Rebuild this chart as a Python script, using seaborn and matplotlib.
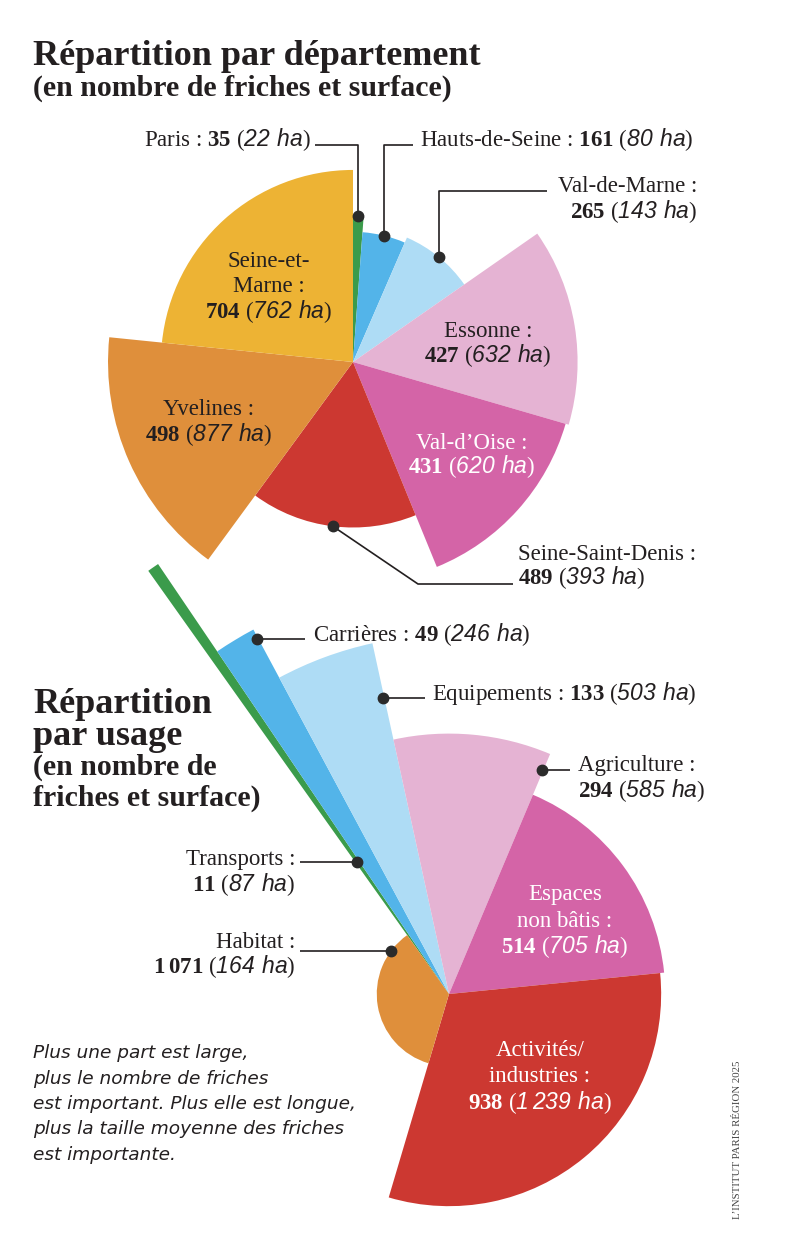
import numpy as np
import pandas as pd
import matplotlib
matplotlib.use("Agg")
import matplotlib.pyplot as plt
import seaborn as sns

# --- Données : nombre de friches et surface (ha) ---
dept_names = ["Paris", "Hauts-de-Seine", "Val-de-Marne", "Essonne",
              "Val-d\u2019Oise", "Seine-Saint-Denis", "Yvelines", "Seine-et-Marne"]
dept_counts = [35, 161, 265, 427, 431, 489, 498, 704]
dept_surfaces = [22, 80, 143, 632, 620, 393, 877, 762]

usage_names = ["Transports", "Carrières", "Equipements", "Agriculture",
               "Espaces non bâtis", "Activités/industries", "Habitat"]
usage_counts = [11, 49, 133, 294, 514, 938, 1071]
usage_surfaces = [87, 246, 503, 585, 705, 1239, 164]

GREEN, BLUE, LBLUE, LPINK = "#3b9b4b", "#53b4e9", "#aedcf5", "#e5b3d3"
MAGENTA, RED, ORANGE, YELLOW = "#d464a7", "#cc3831", "#df8f3b", "#edb334"
dept_colors = [GREEN, BLUE, LBLUE, LPINK, MAGENTA, RED, ORANGE, YELLOW]
usage_colors = [GREEN, BLUE, LBLUE, LPINK, MAGENTA, RED, ORANGE]

W, H = 800, 1235
K = 184.6          # pixels par racine(ha / friche)
INK = "#231f20"

sns.set_theme(style="white")
plt.rcParams["font.family"] = ["Liberation Serif", "DejaVu Serif"]
plt.rcParams["mathtext.fontset"] = "custom"
plt.rcParams["mathtext.rm"] = "Liberation Serif"
plt.rcParams["mathtext.bf"] = "Liberation Serif:bold"
# \mathsf sert ici pour l'italique (chiffres compris)
plt.rcParams["mathtext.sf"] = "Liberation Sans:italic"


def build(names, counts, surfaces, colors, start):
    df = pd.DataFrame({"name": names, "count": counts, "surface": surfaces, "color": colors})
    df["width"] = df["count"] / df["count"].sum() * 2 * np.pi
    df["theta0"] = start + df["width"].cumsum() - df["width"]
    # angle = nombre de friches, aire du secteur = surface
    df["radius"] = np.sqrt(df["surface"] / df["count"])
    return df


def polar_axes(fig, cx, cy, rpx):
    ax = fig.add_axes([(cx - rpx) / W, (H - cy - rpx) / H, 2 * rpx / W, 2 * rpx / H],
                      projection="polar")
    ax.set_theta_zero_location("N")
    ax.set_theta_direction(-1)
    ax.set_ylim(0, rpx / K)
    ax.set_axis_off()
    return ax


def num(n):
    return f"{n:,}".replace(",", r"\,")


def value_part(df, i):
    return (f"$\\mathbf{{{num(df['count'][i])}}}$ "
            f"($\\mathsf{{{num(df['surface'][i])}\\ ha}}$)")


def line_main(df, i):
    return f"{df['name'][i]} : " + value_part(df, i)


dept = build(dept_names, dept_counts, dept_surfaces, dept_colors, 0.0)
usage = build(usage_names, usage_counts, usage_surfaces, usage_colors, np.deg2rad(-35.4))

fig = plt.figure(figsize=(W / 100, H / 100), dpi=100)
fig.patch.set_facecolor("white")

ax_top = polar_axes(fig, 353, 362, 260)
ax_top.bar(dept["theta0"], dept["radius"], width=dept["width"], align="edge",
           color=dept["color"], linewidth=0)

ax_bot = polar_axes(fig, 449, 994, 530)
ax_bot.bar(usage["theta0"], usage["radius"], width=usage["width"], align="edge",
           color=usage["color"], linewidth=0)

ov = fig.add_axes([0, 0, 1, 1])
ov.set_xlim(0, W)
ov.set_ylim(H, 0)
ov.set_axis_off()


def anchor(ax, df, i, ft, fr):
    th = df["theta0"][i] + ft * df["width"][i]
    x, y = ax.transData.transform((th, fr * df["radius"][i]))
    return x, H - y


def leader(pts):
    xs, ys = zip(*pts)
    ov.plot(xs, ys, color=INK, lw=1.2, solid_capstyle="butt")
    ov.plot(xs[0], ys[0], "o", color="#2b2b2b", ms=7.5)


LBL = 16.5

# --- Titres ---
ov.text(33, 65, "Répartition par département", fontsize=26, fontweight="bold", color=INK, va="baseline")
ov.text(33, 96, "(en nombre de friches et surface)", fontsize=21.5, fontweight="bold", color=INK, va="baseline")
for txt, y, fs in [("Répartition", 713, 26), ("par usage", 745, 26),
                   ("(en nombre de", 775, 21.5), ("friches et surface)", 806, 21.5)]:
    ov.text(33, y, txt, fontsize=fs, fontweight="bold", color=INK, va="baseline")

# --- Étiquettes département ---
x, y = anchor(ax_top, dept, 0, 0.5, 1.0)
leader([(x, y), (x, 145), (315, 145)])
ov.text(311, 146, line_main(dept, 0), fontsize=LBL, color=INK, ha="right", va="baseline")

x, y = anchor(ax_top, dept, 1, 0.5, 1.0)
leader([(x, y), (x, 145), (413, 145)])
ov.text(420, 146, line_main(dept, 1), fontsize=LBL, color=INK, ha="left", va="baseline")

x, y = anchor(ax_top, dept, 2, 0.5, 1.0)
leader([(x, y), (x, 191), (547, 191)])
ov.text(697, 192, "Val-de-Marne :", fontsize=LBL, color=INK, ha="right", va="baseline")
ov.text(697, 218, value_part(dept, 2), fontsize=LBL, color=INK, ha="right", va="baseline")

x, y = anchor(ax_top, dept, 5, 0.5, 1.0)
leader([(x, y), (418, 584), (513, 584)])
ov.text(518, 560, "Seine-Saint-Denis :", fontsize=LBL, color=INK, ha="left", va="baseline")
ov.text(518, 584, value_part(dept, 5), fontsize=LBL, color=INK, ha="left", va="baseline")

inner_top = [
    (7, 269, [267, 292, 318], ["Seine-et-", "Marne :"], INK),
    (3, 488, [337, 362], ["Essonne :"], INK),
    (6, 209, [415, 441], ["Yvelines :"], INK),
    (4, 472, [449, 473], ["Val-d\u2019Oise :"], "white"),
]
for i, cx, ys, heads, col in inner_top:
    for txt, yy in zip(heads + [value_part(dept, i)], ys):
        ov.text(cx, yy, txt, fontsize=LBL, color=col, ha="center", va="baseline")

# --- Étiquettes usage ---
x, y = anchor(ax_bot, usage, 0, 0.5, 0.31)
leader([(x, y), (300, y)])
ov.text(295, 865, "Transports :", fontsize=LBL, color=INK, ha="right", va="baseline")
ov.text(295, 891, value_part(usage, 0), fontsize=LBL, color=INK, ha="right", va="baseline")

x, y = anchor(ax_bot, usage, 1, 0.97, 0.975)
leader([(x, y), (305, y)])
ov.text(313, 641, line_main(usage, 1), fontsize=LBL, color=INK, ha="left", va="baseline")

x, y = anchor(ax_bot, usage, 2, 0.99, 0.845)
leader([(x, y), (425, y)])
ov.text(432, 700, line_main(usage, 2), fontsize=LBL, color=INK, ha="left", va="baseline")

x, y = anchor(ax_bot, usage, 3, 0.99, 0.933)
leader([(x, y), (570, y)])
ov.text(578, 771, "Agriculture :", fontsize=LBL, color=INK, ha="left", va="baseline")
ov.text(578, 797, value_part(usage, 3), fontsize=LBL, color=INK, ha="left", va="baseline")

x, y = anchor(ax_bot, usage, 6, 0.86, 1.0)
leader([(x, y), (300, y)])
ov.text(295, 948, "Habitat :", fontsize=LBL, color=INK, ha="right", va="baseline")
ov.text(295, 973, value_part(usage, 6), fontsize=LBL, color=INK, ha="right", va="baseline")

inner_bot = [
    (4, 565, [900, 927, 953], ["Espaces", "non bâtis :"]),
    (5, 540, [1056, 1082, 1109], ["Activités/", "industries :"]),
]
for i, cx, ys, heads in inner_bot:
    for txt, yy in zip(heads + [value_part(usage, i)], ys):
        ov.text(cx, yy, txt, fontsize=LBL, color="white", ha="center", va="baseline")

# --- Note de lecture ---
note = ["Plus une part est large,",
        "plus le nombre de friches",
        "est important. Plus elle est longue,",
        "plus la taille moyenne des friches",
        "est importante."]
for k, txt in enumerate(note):
    ov.text(33, 1058 + k * 25.5, txt, fontsize=13.3, style="italic", family="DejaVu Sans",
            color=INK, va="baseline")

ov.text(738, 1140, "L\u2019INSTITUT PARIS RÉGION 2025", fontsize=7.8, rotation=90,
        color="#444444", ha="center", va="center")

fig.savefig("out.png", dpi=100, facecolor="white")
